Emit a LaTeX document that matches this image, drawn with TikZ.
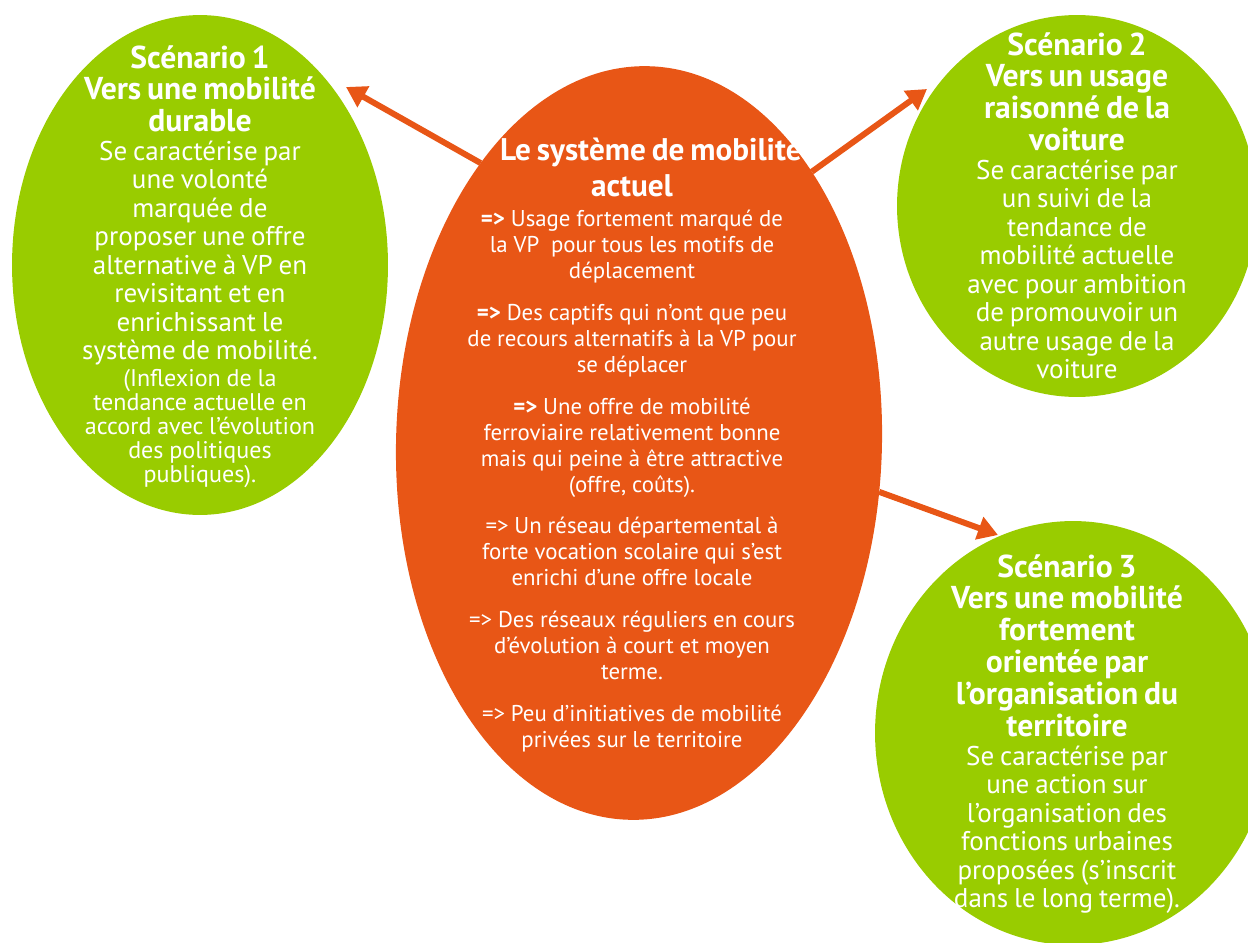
\documentclass[tikz,border=0pt]{standalone}
\usepackage{fontspec}
\setmainfont{PT Sans}
\usetikzlibrary{shapes.geometric,arrows.meta}
\definecolor{scengreen}{RGB}{153,204,0}
\definecolor{sysorange}{RGB}{232,86,22}
\tikzstyle{scen}    =[ellipse, fill=scengreen, inner sep=0pt,
                      outer sep=0pt]
\tikzstyle{sys}     =[ellipse, fill=sysorange, inner sep=0pt,
                      outer sep=0pt]
\tikzstyle{edge}    =[draw=sysorange, line width=3.4pt,
                      -{Triangle[length=0.4cm,width=0.46cm]}]
\tikzstyle{scentext}=[text=white, align=center, text width=8.5cm,
                      inner sep=0pt, anchor=base]
\newcommand{\scentitle}{\bfseries\fontsize{18}{18.2}\selectfont}
\newcommand{\scenbody}{\mdseries\fontsize{15.4}{16.2}\selectfont}
\newcommand{\scensmall}{\mdseries\fontsize{13.7}{13.7}\selectfont}
\newcommand{\systitle}{\bfseries\fontsize{17.8}{21}\selectfont}
\newcommand{\sysbody}{\mdseries\fontsize{13}{14.8}\selectfont}

\begin{document}
\begin{tikzpicture}[x=0.02cm, y=-0.02cm]
    \useasboundingbox (0,0) rectangle (1248,943);
    \clip (0,0) rectangle (1248,943);
    % ellipses
    \node[scen, minimum width=7.52cm, minimum height=10cm] (s1) at (200,265) {};
    \node[scen, minimum width=7.2cm, minimum height=7.64cm] (s2) at (1077,206) {};
    \node[scen, minimum width=7.92cm, minimum height=8.48cm] (s3) at (1073,733) {};
    \node[sys, minimum width=9.72cm, minimum height=15.08cm, rotate=-1.5] (sys) at (639,443) {};
    % arrows
    \draw[edge] (sys.121.5) -- ([shift={(146,-178)}]s1.center);
    \draw[edge] (sys.59.8) -- ([shift={(-150,-117)}]s2.center);
    \draw[edge] (sys.-10.7) -- ([shift={(-75,-198)}]s3.center);
    % texts
    \node[scentext] (s1text) at (200,68) {\scentitle Scénario 1\\ Vers une mobilité\\ durable\par
        \scenbody Se caractérise par\\ une volonté\\ marquée de\\ proposer une offre\\
        alternative à VP en\\ revisitant et en\\ enrichissant le\\ système de mobilité.\par
        \vspace{1.5pt}\scensmall (Inflexion de la\\ tendance actuelle en\\ accord avec l’évolution\\
        des politiques\\ publiques).\par};
    \node[scentext] (s2text) at (1077,55) {\scentitle Scénario 2\\ Vers un usage\\ raisonné de la\\ voiture\par
        \scenbody Se caractérise par\\ un suivi de la\\ tendance de\\ mobilité actuelle\\
        avec pour ambition\\ de promouvoir un\\ autre usage de la\\ voiture\par};
    \node[scentext] (s3text) at (1067,577) {\scentitle Scénario 3\\ Vers une mobilité\\ fortement\\ orientée par\\
        l’organisation du\\ territoire\par
        \scenbody Se caractérise par\\ une action sur\\ l’organisation des\\ fonctions urbaines\\
        proposées (s’inscrit\\ dans le long terme).\par};
    \node[scentext, text width=9.5cm] (systext) at (632,160) {\systitle \hspace*{0.76cm}Le système de mobilité\\ actuel\par
        \vspace{2pt}\sysbody \textbf{=>} Usage fortement marqué de\\ la VP\ \ pour tous les motifs de\\ déplacement\\[9pt]
        \textbf{=>} Des captifs qui n’ont que peu\\ de recours alternatifs à la VP pour\\ se déplacer\\[9pt]
        \textbf{=>} Une offre de mobilité\\ ferroviaire relativement bonne\\ mais qui peine à être attractive\\ (offre, coûts).\\[9pt]
        => Un réseau départemental à\\ forte vocation scolaire qui s’est\\ enrichi d’une offre locale\\[9pt]
        => Des réseaux réguliers en cours\\ d’évolution à court et moyen\\ terme.\\[9pt]
        => Peu d’initiatives de mobilité\\ privées sur le territoire\par};
\end{tikzpicture}
\end{document}
